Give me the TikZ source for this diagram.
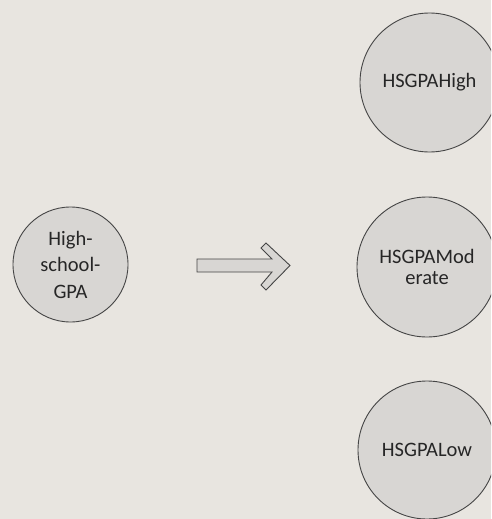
\documentclass[tikz,border=0pt]{standalone}
\usepackage{fontspec}
\setmainfont{Carlito}
\definecolor{paper}{HTML}{E8E5E0}
\definecolor{circfill}{HTML}{D8D6D3}
\definecolor{edge}{HTML}{454545}
\definecolor{ink}{HTML}{262626}
\tikzset{
  bubble/.style={circle, draw=edge, line width=0.9pt, fill=circfill, text=ink, align=center, inner sep=0pt},
  blockarrow/.style={draw=edge, line width=0.9pt, fill=circfill, line join=miter}
}
\begin{document}
\begin{tikzpicture}[x=1pt,y=-1pt]
\useasboundingbox (0,0) rectangle (491,519);
\clip (0,0) rectangle (491,519);
\fill[paper] (0,0) rectangle (491,519);
% circles
\node[bubble, minimum size=115pt, font=\fontsize{20.5}{26.5}\selectfont] (gpa) at (70.5,264.5) {High-\\school-\\GPA};
\node[bubble, minimum size=139pt, font=\fontsize{20.5}{21}\selectfont] (high) at (429.5,82.5) {HSGPAHigh};
\node[bubble, minimum size=140pt, font=\fontsize{20.5}{21.5}\selectfont] (mod) at (427,267) {HSGPAMod\\erate};
\node[bubble, minimum size=138pt, font=\fontsize{20.5}{21}\selectfont] (low) at (427,450) {HSGPALow};
% block arrow
\coordinate (aL) at (197,265.5);
\coordinate (aT) at (290,265.5);
\draw[blockarrow] (aL |- 0,259) -- (272,259) -- (261,248) -- (266,243) -- (aT) -- (266,290) -- (261,285) -- (272,272) -- (aL |- 0,272) -- cycle;
\end{tikzpicture}
\end{document}
